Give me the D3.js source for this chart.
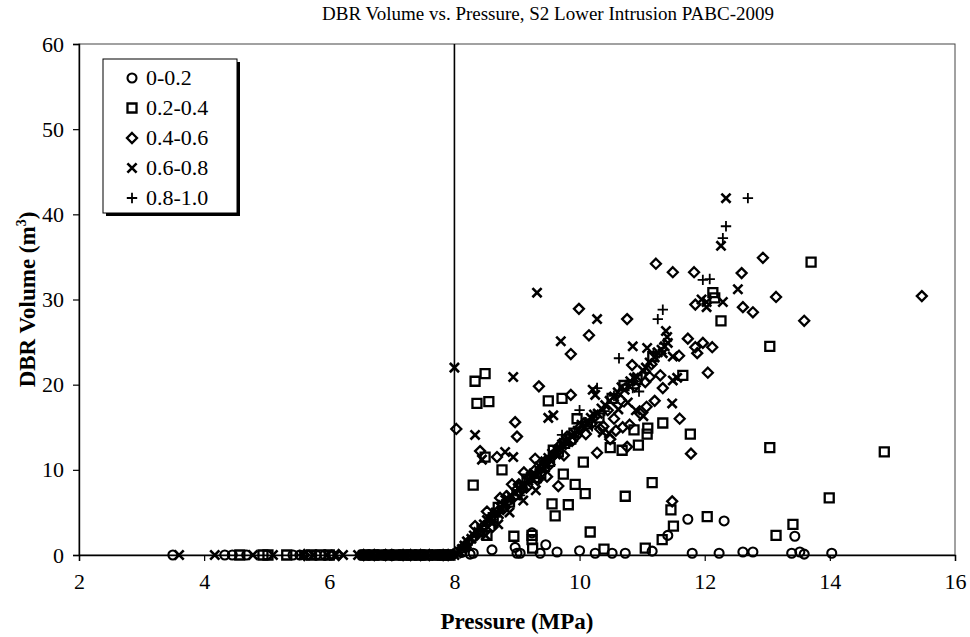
<!DOCTYPE html>
<html><head><meta charset="utf-8">
<script src="https://cdn.jsdelivr.net/npm/d3@7"></script>
<style>body{margin:0;background:#fff}svg{display:block}</style>
</head><body>
<svg id="c" width="970" height="637"></svg>
<script>
// ---------------- DATA ----------------
const seriesNames = ["0-0.2", "0.2-0.4", "0.4-0.6", "0.6-0.8", "0.8-1.0"];
const xTicks = [2, 4, 6, 8, 10, 12, 14, 16];
const yTicks = [0, 10, 20, 30, 40, 50, 60];
const thresholdPressure = 8;

// Zero-volume points (pressure only) per series
const circlesZero = [3.5, 4.33, 4.45, 4.68, 5.42, 5.53, 5.66, 5.79, 5.93, 6.04, 6.52, 6.6, 6.63, 6.71, 6.77, 6.88, 6.99, 7.02, 7.13, 7.2, 7.27, 7.38, 7.45, 7.51, 7.64, 7.7, 7.76, 7.87, 7.92, 7.96];
const squaresZero = [4.57, 4.94, 5.02, 5.32, 5.71, 5.86, 6.0, 6.57, 6.7, 6.83, 6.95, 7.06, 7.19, 7.31, 7.44, 7.57, 7.72, 7.81, 7.91];
const diamondsZero = [5.6, 6.15, 6.55, 6.72, 6.9, 7.0, 7.18, 7.3, 7.46, 7.6, 7.82, 7.9];
const crossesZero = [3.6, 4.17, 4.78, 5.1, 5.58, 5.74, 5.97, 6.1, 6.22, 6.46, 6.53, 6.59, 6.68, 6.74, 6.84, 6.9, 6.97, 7.04, 7.09, 7.15, 7.22, 7.28, 7.35, 7.42, 7.48, 7.53, 7.6, 7.66, 7.71, 7.77, 7.83, 7.89, 7.93, 8.0];
const plusesZero = [6.49, 6.57, 6.64, 6.72, 6.79, 6.86, 6.93, 7.0, 7.07, 7.16, 7.24, 7.33, 7.41, 7.49, 7.55, 7.62, 7.69, 7.78, 7.86, 7.93, 7.98];

// [pressure (MPa), DBR volume (m3)]
const circles = [[8.12,0.3],[8.25,0.1],[8.3,0.2],[8.6,0.6],[8.97,0.9],[9.0,0.2],[9.05,0.2],[9.24,2.6],[9.37,0.2],[9.46,1.2],[9.64,0.35],[10.0,0.5],[10.25,0.2],[10.52,0.2],[10.73,0.2],[11.16,0.45],[11.41,2.3],[11.73,4.2],[11.8,0.2],[12.23,0.2],[12.31,4.0],[12.61,0.35],[12.77,0.35],[13.39,0.2],[13.44,2.2],[13.52,0.35],[13.59,0.1],[14.03,0.2]];

const squares = [[8.3,8.2],[8.33,20.4],[8.49,21.3],[8.36,17.8],[8.55,18.0],[8.49,11.5],[8.52,2.3],[8.44,2.9],[8.7,5.6],[8.76,10.0],[8.62,4.4],[8.88,6.2],[8.95,2.2],[9.0,7.1],[9.08,8.0],[9.16,8.9],[9.24,2.3],[9.24,1.8],[9.25,0.8],[9.31,9.1],[9.38,9.6],[9.44,10.4],[9.52,11.0],[9.5,18.1],[9.56,6.0],[9.61,4.6],[9.58,12.3],[9.66,12.1],[9.72,18.4],[9.74,9.5],[9.76,13.1],[9.86,13.6],[9.82,5.9],[9.93,8.3],[9.91,14.3],[9.96,16.0],[10.06,10.9],[10.09,7.2],[10.12,15.4],[10.17,2.7],[10.31,16.1],[10.39,0.7],[10.49,12.6],[10.52,18.4],[10.68,12.3],[10.73,6.9],[10.71,19.9],[10.87,14.7],[10.94,12.9],[10.92,20.6],[11.05,0.8],[11.08,14.2],[11.09,14.9],[11.16,8.5],[11.17,23.3],[11.32,1.8],[11.33,15.5],[11.46,5.3],[11.5,3.4],[11.65,21.1],[11.77,14.2],[12.04,4.5],[12.13,30.8],[12.16,30.2],[12.26,27.5],[13.04,24.5],[13.04,12.6],[13.14,2.3],[13.41,3.6],[13.7,34.4],[13.99,6.7],[14.87,12.1]];

const diamonds = [[8.03,14.8],[8.12,0.8],[8.18,0.9],[8.22,1.5],[8.31,2.1],[8.33,3.4],[8.39,2.6],[8.41,12.2],[8.47,3.4],[8.52,5.1],[8.56,4.0],[8.61,3.3],[8.68,11.5],[8.69,5.1],[8.73,6.7],[8.78,5.4],[8.83,6.9],[8.87,6.4],[8.92,8.3],[8.95,6.8],[8.97,15.6],[9.0,13.9],[9.03,8.3],[9.08,7.7],[9.11,9.7],[9.15,7.9],[9.21,9.1],[9.28,9.9],[9.29,11.3],[9.33,8.8],[9.35,19.8],[9.38,10.1],[9.44,10.9],[9.48,9.2],[9.52,10.6],[9.57,11.6],[9.62,12.0],[9.66,8.1],[9.69,12.9],[9.75,11.7],[9.8,13.9],[9.86,18.8],[9.86,23.6],[9.88,13.4],[9.95,14.0],[9.99,28.9],[10.02,15.1],[10.1,14.2],[10.15,25.8],[10.19,15.4],[10.25,16.3],[10.28,12.0],[10.33,14.8],[10.38,15.1],[10.45,17.0],[10.49,13.6],[10.55,16.0],[10.58,14.6],[10.66,18.2],[10.69,15.0],[10.76,12.7],[10.76,27.7],[10.8,15.3],[10.84,22.3],[10.88,19.8],[10.97,16.6],[11.05,20.3],[11.07,17.4],[11.12,20.9],[11.15,22.4],[11.2,18.1],[11.22,34.2],[11.29,21.1],[11.33,19.6],[11.48,6.3],[11.49,33.2],[11.59,23.4],[11.6,16.0],[11.73,25.4],[11.78,11.9],[11.83,33.2],[11.85,29.4],[11.85,24.4],[11.88,23.7],[11.97,24.9],[12.05,21.4],[12.12,24.4],[12.59,33.1],[12.61,29.1],[12.77,28.5],[12.93,34.9],[13.14,30.3],[13.59,27.5],[15.47,30.4]];

const crosses = [[8.04,0.2],[8.08,0.4],[8.12,0.7],[8.16,1.1],[8.2,1.6],[8.27,1.9],[8.31,2.3],[8.38,2.7],[8.43,3.2],[8.47,3.6],[8.5,2.3],[8.52,4.1],[8.58,4.2],[8.6,3.7],[8.66,5.0],[8.7,3.6],[8.71,4.8],[8.74,5.6],[8.77,5.9],[8.82,6.0],[8.86,6.5],[8.88,5.0],[8.9,7.0],[8.98,7.3],[9.02,7.8],[9.07,8.2],[9.1,6.4],[9.12,8.1],[9.18,8.7],[9.22,9.2],[9.27,9.6],[9.3,7.6],[9.31,9.3],[9.36,10.4],[9.4,10.0],[9.45,11.0],[9.5,11.4],[9.56,11.9],[9.62,11.8],[9.67,12.4],[9.72,13.0],[9.78,13.2],[9.83,13.5],[9.88,13.9],[9.93,14.2],[9.97,14.6],[10.03,15.3],[10.08,15.0],[10.13,15.6],[10.18,16.1],[10.23,16.5],[10.29,16.6],[10.35,17.2],[10.41,17.6],[10.48,18.1],[10.55,18.6],[10.61,19.1],[10.67,19.7],[10.72,19.4],[10.81,20.4],[10.87,20.8],[10.92,20.9],[11.01,21.7],[11.06,22.0],[11.12,22.6],[11.2,23.2],[11.25,23.8],[11.31,24.1],[11.36,24.5],[11.41,24.9],[8.0,22.0],[8.33,14.1],[8.44,11.2],[8.81,12.1],[8.94,11.5],[8.94,20.9],[9.32,30.8],[9.5,16.1],[9.58,16.4],[9.7,25.1],[10.21,19.4],[10.25,18.8],[10.28,27.7],[10.37,14.4],[10.47,14.3],[10.62,17.1],[10.77,17.9],[10.9,17.0],[11.02,16.3],[10.85,24.5],[11.08,24.3],[11.33,23.7],[11.38,26.3],[11.4,25.6],[11.48,17.8],[11.49,20.5],[11.49,23.3],[11.56,20.8],[11.95,30.0],[12.03,29.1],[12.03,29.7],[12.29,29.7],[12.26,36.3],[12.34,41.9],[12.53,31.2]];

const pluses = [[8.05,0.2],[8.1,0.6],[8.15,0.9],[8.21,1.4],[8.28,1.7],[8.34,2.4],[8.42,3.1],[8.52,3.9],[8.58,4.6],[8.64,4.8],[8.71,5.2],[8.79,5.8],[8.85,6.3],[8.93,7.1],[9.0,7.6],[9.05,7.0],[9.12,8.4],[9.17,9.0],[9.23,9.3],[9.3,9.8],[9.35,9.0],[9.41,10.6],[9.47,10.9],[9.53,11.3],[9.6,11.9],[9.65,12.7],[9.72,14.1],[9.78,12.9],[9.84,13.8],[9.92,14.3],[10.0,17.0],[10.1,15.6],[10.2,15.1],[10.28,19.6],[10.4,16.9],[10.55,18.7],[10.63,23.1],[10.75,20.0],[10.85,19.6],[10.95,19.2],[11.05,21.4],[11.18,23.7],[11.25,27.7],[11.33,28.8],[11.35,24.8],[11.97,32.3],[12.08,32.4],[12.29,37.2],[12.34,38.6],[12.69,41.9]];

// ---------------- CHART ----------------
const svg = d3.select("#c");
const W = 970, H = 637;
const m = {l: 79, r: 955, t: 44, b: 555};
const x = d3.scaleLinear().domain([2, 16]).range([m.l, m.r]);
const y = d3.scaleLinear().domain([0, 60]).range([m.b, m.t]);
const FONT = "'Liberation Serif','Times New Roman',Times,serif";

svg.append("rect").attr("width", W).attr("height", H).attr("fill", "#fff");

// frame (top/right)
svg.append("rect").attr("x", m.l).attr("y", m.t).attr("width", m.r - m.l).attr("height", m.b - m.t)
  .attr("fill", "none").attr("stroke", "#444").attr("stroke-width", 1);

// threshold vertical line
svg.append("line").attr("x1", x(thresholdPressure)).attr("x2", x(thresholdPressure))
  .attr("y1", y(60)).attr("y2", y(0)).attr("stroke", "#000").attr("stroke-width", 1.6);

// axes
const xAxis = svg.append("g").attr("transform", `translate(0,${m.b})`)
  .call(d3.axisBottom(x).tickValues(xTicks).tickSize(6).tickPadding(12).tickFormat(d3.format("d")));
const yAxis = svg.append("g").attr("transform", `translate(${m.l},0)`)
  .call(d3.axisLeft(y).tickValues(yTicks).tickSize(6).tickPadding(9).tickFormat(d3.format("d")));
[xAxis, yAxis].forEach(g => {
  g.select(".domain").attr("stroke", "#000").attr("stroke-width", 1.4);
  g.selectAll(".tick line").attr("stroke", "#000").attr("stroke-width", 1.2);
  g.selectAll(".tick text").attr("font-family", FONT).attr("font-size", 22).attr("fill", "#000");
});

// marker shapes
const shapes = {
  circle: "M4.5,0A4.5,4.5 0 1,1 -4.5,0A4.5,4.5 0 1,1 4.5,0Z",
  square: "M-4.5,-4.5H4.5V4.5H-4.5Z",
  diamond: "M0,-5L5,0L0,5L-5,0Z",
  cross: "M-4.6,-4.6L4.6,4.6M-4.6,4.6L4.6,-4.6",
  plus: "M-5.2,0H5.2M0,-5.2V5.2"
};
const series = [
  {name: seriesNames[0], shape: "circle", zero: circlesZero, pts: circles, sw: 2.1},
  {name: seriesNames[1], shape: "square", zero: squaresZero, pts: squares, sw: 2.3},
  {name: seriesNames[2], shape: "diamond", zero: diamondsZero, pts: diamonds, sw: 2.3},
  {name: seriesNames[3], shape: "cross", zero: crossesZero, pts: crosses, sw: 2.6},
  {name: seriesNames[4], shape: "plus", zero: plusesZero, pts: pluses, sw: 1.8}
];

series.forEach(s => {
  const all = s.zero.map(v => [v, 0]).concat(s.pts);
  svg.append("g").selectAll("path").data(all).join("path")
    .attr("d", shapes[s.shape])
    .attr("transform", d => `translate(${x(d[0])},${y(d[1])})`)
    .attr("fill", "none").attr("stroke", "#000").attr("stroke-width", s.sw);
});

// legend
const lg = svg.append("g");
const lx = 103, ly = 59, lw = 134, lh = 154;
lg.append("rect").attr("x", lx + 3).attr("y", ly + 3).attr("width", lw).attr("height", lh).attr("fill", "#000");
lg.append("rect").attr("x", lx).attr("y", ly).attr("width", lw).attr("height", lh)
  .attr("fill", "#fff").attr("stroke", "#000").attr("stroke-width", 1);
series.forEach((s, i) => {
  const cy = ly + 19 + i * 30;
  lg.append("path").attr("d", shapes[s.shape]).attr("transform", `translate(${lx + 29},${cy})`)
    .attr("fill", "none").attr("stroke", "#000").attr("stroke-width", s.sw);
  lg.append("text").attr("x", lx + 43).attr("y", cy + 7).attr("font-family", FONT)
    .attr("font-size", 22).attr("fill", "#000").text(s.name);
});

// title & axis titles
svg.append("text").attr("x", 548).attr("y", 20).attr("text-anchor", "middle")
  .attr("font-family", FONT).attr("font-size", 19).attr("fill", "#000")
  .text("DBR Volume vs. Pressure, S2 Lower Intrusion PABC-2009");
svg.append("text").attr("x", (m.l + m.r) / 2).attr("y", 629).attr("text-anchor", "middle")
  .attr("font-family", FONT).attr("font-size", 23).attr("font-weight", "bold").attr("fill", "#000")
  .text("Pressure (MPa)");
const yt = svg.append("text").attr("transform", `translate(35,${(m.t + m.b) / 2}) rotate(-90)`)
  .attr("text-anchor", "middle").attr("font-family", FONT).attr("font-size", 23)
  .attr("font-weight", "bold").attr("fill", "#000");
yt.append("tspan").text("DBR Volume (m");
yt.append("tspan").attr("font-size", 14).attr("dy", -9).text("3");
yt.append("tspan").attr("dy", 9).text(")");
</script>
</body></html>
